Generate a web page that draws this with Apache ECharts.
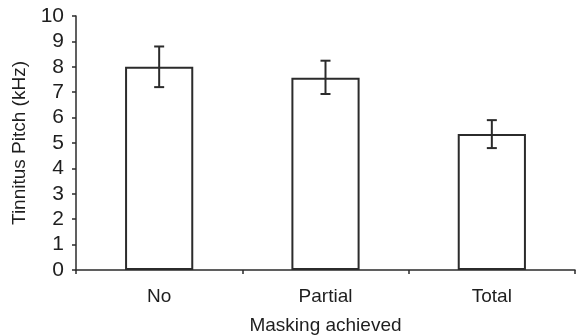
<!DOCTYPE html>
<html>
<head>
<meta charset="utf-8">
<script src="https://cdn.jsdelivr.net/npm/echarts@6/dist/echarts.min.js"></script>
<style>
  html, body { margin: 0; padding: 0; background: #fff; }
  #chart { width: 577px; height: 336px; }
</style>
</head>
<body>
<div id="chart"></div>
<script>
// Tinnitus pitch by masking outcome, mean with error bars
const categories = ['No', 'Partial', 'Total'];
const meanPitch = [8.0, 7.57, 5.35];
const errLow = [7.2, 6.93, 4.8];
const errHigh = [8.8, 8.24, 5.9];
const yTicks = [0, 1, 2, 3, 4, 5, 6, 7, 8, 9, 10];

const ink = '#2b2b2b';
const textInk = '#1e1e1e';
const font = 'Liberation Sans, Arial, sans-serif';

const chart = echarts.init(document.getElementById('chart'));

chart.setOption({
  animation: false,
  grid: { left: 76, right: 2, top: 16, bottom: 66, outerBoundsMode: 'none', containLabel: false },
  xAxis: {
    type: 'category',
    data: categories,
    name: 'Masking achieved',
    nameLocation: 'middle',
    nameGap: 46,
    nameTextStyle: { fontFamily: font, fontSize: 19, color: textInk },
    axisLine: { lineStyle: { color: ink, width: 1.5 } },
    axisTick: { show: true, length: 4, lineStyle: { color: ink, width: 1.5 } },
    axisLabel: { fontFamily: font, fontSize: 19, color: textInk, margin: 17 }
  },
  yAxis: {
    type: 'value',
    min: yTicks[0],
    max: yTicks[yTicks.length - 1],
    interval: 1,
    name: 'Tinnitus Pitch (kHz)',
    nameLocation: 'middle',
    nameGap: 45,
    nameTextStyle: { fontFamily: font, fontSize: 19, color: textInk },
    splitLine: { show: false },
    axisLine: { show: true, lineStyle: { color: ink, width: 1.5 } },
    axisTick: { show: true, length: 4, lineStyle: { color: ink, width: 1.5 } },
    axisLabel: { fontFamily: font, fontSize: 21, color: textInk, margin: 12 }
  },
  series: [
    {
      type: 'bar',
      data: meanPitch,
      barWidth: '41%',
      itemStyle: { color: '#fff', borderColor: ink, borderWidth: 2 },
      z: 2
    },
    {
      type: 'custom',
      z: 3,
      data: categories.map((c, i) => [i, errLow[i], errHigh[i]]),
      renderItem: function (params, api) {
        const lo = api.coord([api.value(0), api.value(1)]);
        const hi = api.coord([api.value(0), api.value(2)]);
        const hw = 5;
        const style = { stroke: ink, lineWidth: 2, fill: null };
        return {
          type: 'group',
          children: [
            { type: 'line', shape: { x1: hi[0], y1: hi[1], x2: lo[0], y2: lo[1] }, style },
            { type: 'line', shape: { x1: hi[0] - hw, y1: hi[1], x2: hi[0] + hw, y2: hi[1] }, style },
            { type: 'line', shape: { x1: lo[0] - hw, y1: lo[1], x2: lo[0] + hw, y2: lo[1] }, style }
          ]
        };
      }
    }
  ]
});
</script>
</body>
</html>
